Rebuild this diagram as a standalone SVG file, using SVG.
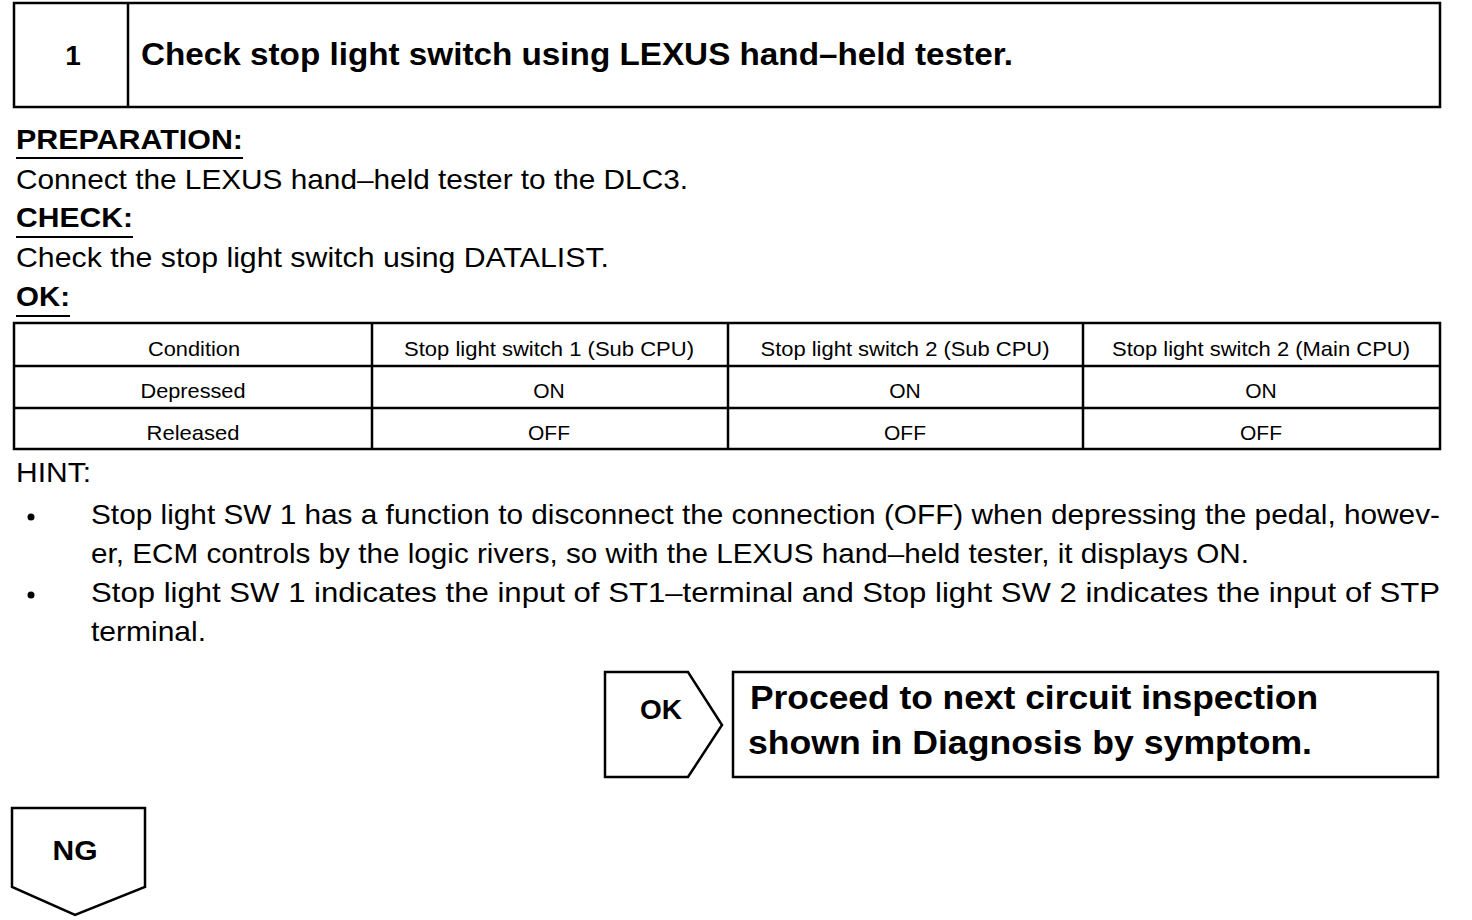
<svg xmlns="http://www.w3.org/2000/svg" width="1472" height="920" viewBox="0 0 1472 920">
<style>
.ln{fill:none;stroke:#000;stroke-width:2.5}
.tl{fill:none;stroke:#000;stroke-width:2}
.t{font-family:"Liberation Sans",Arial,sans-serif;fill:#000}
.b{font-weight:bold}
.body{font-size:28px}
.tab{font-size:21px}
</style>
<rect width="1472" height="920" fill="#fff"/>
<g id="title">
<rect class="ln" x="14" y="3" width="1426" height="104"/>
<line class="ln" x1="128" y1="3" x2="128" y2="107"/>
<text class="t b" x="73" y="65" font-size="28" text-anchor="middle">1</text>
<text class="t b" x="141" y="65" font-size="32" textLength="872" lengthAdjust="spacingAndGlyphs">Check stop light switch using LEXUS hand–held tester.</text>
</g>
<g id="text">
<text class="t b body" x="16" y="149" textLength="227" lengthAdjust="spacingAndGlyphs">PREPARATION:</text>
<line class="tl" x1="16" y1="158" x2="243" y2="158"/>
<text class="t body" x="16" y="189" textLength="672" lengthAdjust="spacingAndGlyphs">Connect the LEXUS hand–held tester to the DLC3.</text>
<text class="t b body" x="16" y="227" textLength="117" lengthAdjust="spacingAndGlyphs">CHECK:</text>
<line class="tl" x1="16" y1="237" x2="133" y2="237"/>
<text class="t body" x="16" y="267" textLength="593" lengthAdjust="spacingAndGlyphs">Check the stop light switch using DATALIST.</text>
<text class="t b body" x="16" y="306" textLength="54" lengthAdjust="spacingAndGlyphs">OK:</text>
<line class="tl" x1="16" y1="316" x2="70" y2="316"/>
</g>
<g id="table">
<rect class="ln" x="14" y="323" width="1426" height="126"/>
<line class="ln" x1="14" y1="366" x2="1440" y2="366"/>
<line class="ln" x1="14" y1="408" x2="1440" y2="408"/>
<line class="ln" x1="372" y1="323" x2="372" y2="449"/>
<line class="ln" x1="728" y1="323" x2="728" y2="449"/>
<line class="ln" x1="1083" y1="323" x2="1083" y2="449"/>
<g class="t tab" text-anchor="middle">
<text x="194" y="356" textLength="92" lengthAdjust="spacingAndGlyphs">Condition</text>
<text x="549" y="356" textLength="290" lengthAdjust="spacingAndGlyphs">Stop light switch 1 (Sub CPU)</text>
<text x="905" y="356" textLength="289" lengthAdjust="spacingAndGlyphs">Stop light switch 2 (Sub CPU)</text>
<text x="1261" y="356" textLength="298" lengthAdjust="spacingAndGlyphs">Stop light switch 2 (Main CPU)</text>
<text x="193" y="398" textLength="105" lengthAdjust="spacingAndGlyphs">Depressed</text>
<text x="549" y="398">ON</text>
<text x="905" y="398">ON</text>
<text x="1261" y="398">ON</text>
<text x="193" y="440" textLength="93" lengthAdjust="spacingAndGlyphs">Released</text>
<text x="549" y="440">OFF</text>
<text x="905" y="440">OFF</text>
<text x="1261" y="440">OFF</text>
</g>
</g>
<g id="hint">
<text class="t body" x="16" y="482" textLength="75" lengthAdjust="spacingAndGlyphs">HINT:</text>
<circle cx="31" cy="517" r="3.5" fill="#000"/>
<circle cx="31" cy="595" r="3.5" fill="#000"/>
<text class="t body" x="91" y="524" textLength="1349" lengthAdjust="spacingAndGlyphs">Stop light SW 1 has a function to disconnect the connection (OFF) when depressing the pedal, howev-</text>
<text class="t body" x="91" y="563" textLength="1158" lengthAdjust="spacingAndGlyphs">er, ECM controls by the logic rivers, so with the LEXUS hand–held tester, it displays ON.</text>
<text class="t body" x="91" y="602" textLength="1349" lengthAdjust="spacingAndGlyphs">Stop light SW 1 indicates the input of ST1–terminal and Stop light SW 2 indicates the input of STP</text>
<text class="t body" x="91" y="641" textLength="115" lengthAdjust="spacingAndGlyphs">terminal.</text>
</g>
<g id="ok">
<polygon class="ln" points="605,672 688,672 722,725 688,777 605,777"/>
<text class="t b" x="661" y="719" font-size="28" text-anchor="middle" textLength="42" lengthAdjust="spacingAndGlyphs">OK</text>
</g>
<g id="proceed">
<rect class="ln" x="733" y="672" width="705" height="105"/>
<text class="t b" x="750" y="709" font-size="33" textLength="568" lengthAdjust="spacingAndGlyphs">Proceed to next circuit inspection</text>
<text class="t b" x="748" y="754" font-size="33" textLength="564" lengthAdjust="spacingAndGlyphs">shown  in Diagnosis by symptom.</text>
</g>
<g id="ng">
<polygon class="ln" points="12,808 145,808 145,887 75,915 12,887"/>
<text class="t b" x="75" y="860" font-size="28" text-anchor="middle" textLength="45" lengthAdjust="spacingAndGlyphs">NG</text>
</g>
<g id="connectors"/>
</svg>
